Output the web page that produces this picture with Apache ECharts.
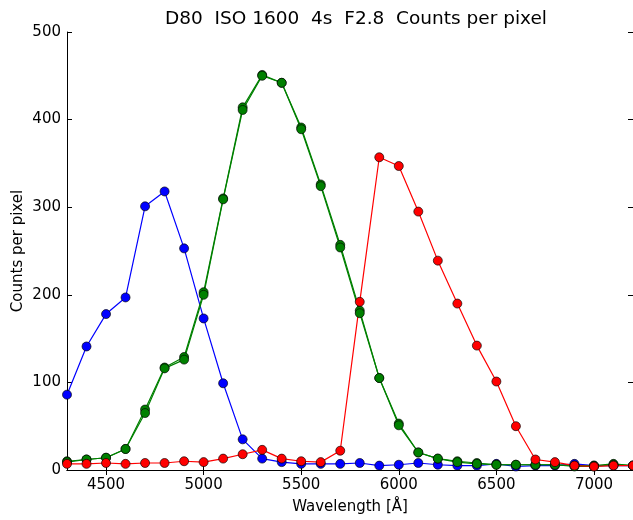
<!DOCTYPE html>
<html>
<head>
<meta charset="utf-8">
<script src="https://cdn.jsdelivr.net/npm/echarts@6/dist/echarts.min.js"></script>
<style>
  html, body { margin: 0; padding: 0; background: #fff; }
  #chart { width: 633px; height: 520px; }
</style>
</head>
<body>
<div id="chart"></div>
<script>
// Wavelength samples in Ångström
const wavelength = [4300, 4400, 4500, 4600, 4700, 4800, 4900, 5000, 5100, 5200,
                    5300, 5400, 5500, 5600, 5700, 5800, 5900, 6000, 6100, 6200,
                    6300, 6400, 6500, 6600, 6700, 6800, 6900, 7000, 7100, 7200];

// Counts per pixel for each colour channel
const blueCounts = [86, 141, 178, 197, 301, 318, 253, 173, 99, 35,
                    13, 9, 7, 7, 7, 8, 5, 6, 8, 6,
                    5, 5, 7, 4, 5, 5, 7, 5, 5, 5];
const green1Counts = [10, 12, 14, 24, 69, 117, 129, 203, 310, 414,
                      451, 442, 391, 326, 257, 182, 105, 53, 20, 13,
                      10, 8, 6, 6, 6, 6, 5, 5, 7, 5];
const green2Counts = [9, 12, 14, 24, 65, 116, 126, 200, 309, 411,
                      450, 442, 389, 324, 254, 179, 105, 51, 20, 13,
                      9, 7, 6, 6, 6, 6, 4, 4, 6, 5];
const redCounts = [7, 7, 8, 7, 8, 8, 10, 9, 13, 18,
                   23, 13, 10, 9, 22, 192, 357, 347, 295, 239,
                   190, 142, 101, 50, 12, 9, 5, 4, 5, 5];

// Axis ticks
const xTicks = [4500, 5000, 5500, 6000, 6500, 7000];
const yTicks = [0, 100, 200, 300, 400, 500];

const font = 'DejaVu Sans';

function pairs(values) {
  return wavelength.map((w, i) => [w, values[i]]);
}

function lineSeries(name, values, color) {
  return {
    name: name,
    type: 'line',
    data: pairs(values),
    symbol: 'circle',
    symbolSize: 9,
    lineStyle: { color: color, width: 1.2 },
    itemStyle: { color: color, borderColor: 'rgba(0,0,0,0.65)', borderWidth: 1 },
    emphasis: { disabled: true }
  };
}

const xCommon = {
  type: 'value',
  min: 4300,
  max: 7200,
  interval: 100,
  splitLine: { show: false },
  axisLine: { show: true, lineStyle: { color: '#000', width: 1 } },
  axisTick: { inside: true, length: 5, customValues: xTicks, lineStyle: { color: '#000' } }
};

const yCommon = {
  type: 'value',
  min: 0,
  max: 500,
  interval: 100,
  splitLine: { show: false },
  axisLine: { show: true, lineStyle: { color: '#000', width: 1 } },
  axisTick: { inside: true, length: 5, customValues: yTicks, lineStyle: { color: '#000' } }
};

const chart = echarts.init(document.getElementById('chart'), null, { renderer: 'canvas' });
chart.setOption({
  animation: false,
  backgroundColor: '#fff',
  title: {
    text: 'D80  ISO 1600  4s  F2.8  Counts per pixel',
    left: 351,
    textAlign: 'center',
    top: 5,
    textStyle: { fontFamily: font, fontSize: 18.5, fontWeight: 'normal', color: '#000' }
  },
  grid: { left: 67, right: -2, top: 32, bottom: 47 },
  xAxis: [
    Object.assign({}, xCommon, {
      position: 'bottom',
      name: 'Wavelength [Å]',
      nameLocation: 'middle',
      nameGap: 30,
      nameMoveOverlap: false,
      nameTextStyle: { fontFamily: font, fontSize: 15, color: '#000' },
      axisLabel: {
        customValues: xTicks, fontFamily: font, fontSize: 15, color: '#000', margin: 8,
        formatter: v => String(v)
      }
    }),
    Object.assign({}, xCommon, { position: 'top', axisLabel: { show: false } })
  ],
  yAxis: [
    Object.assign({}, yCommon, {
      position: 'left',
      name: 'Counts per pixel',
      nameLocation: 'middle',
      nameGap: 41,
      nameMoveOverlap: false,
      nameTextStyle: { fontFamily: font, fontSize: 15, color: '#000' },
      axisLabel: {
        customValues: yTicks, fontFamily: font, fontSize: 15, color: '#000', margin: 6,
        formatter: v => String(v)
      }
    }),
    Object.assign({}, yCommon, { position: 'right', axisLabel: { show: false } })
  ],
  series: [
    lineSeries('B', blueCounts, '#0000ff'),
    lineSeries('G1', green1Counts, '#008000'),
    lineSeries('G2', green2Counts, '#008000'),
    lineSeries('R', redCounts, '#ff0000')
  ]
});
</script>
</body>
</html>
